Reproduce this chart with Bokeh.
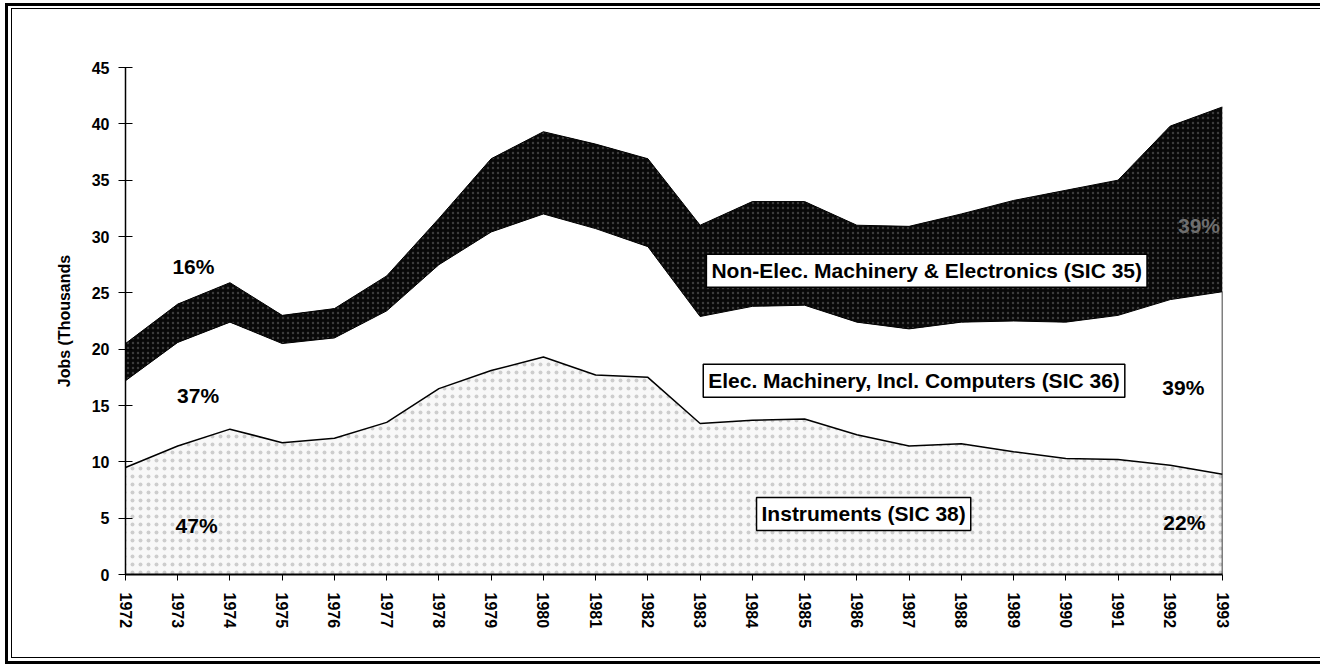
import numpy as np
from bokeh.plotting import figure
from bokeh.models import FixedTicker, Label, InlineStyleSheet
from bokeh.embed import file_html
from bokeh.resources import INLINE

# ---- data (thousands of jobs) ----
years = list(range(1972, 1994))
instruments = [9.5, 11.4, 12.9, 11.7, 12.1, 13.5, 16.5, 18.1, 19.3, 17.7, 17.5,
               13.4, 13.7, 13.8, 12.4, 11.4, 11.6, 10.9, 10.3, 10.2, 9.7, 8.9]
elec_machinery = [7.7, 9.2, 9.5, 8.8, 8.9, 9.9, 11.0, 12.3, 12.7, 13.0, 11.6,
                  9.5, 10.1, 10.1, 10.0, 10.4, 10.8, 11.6, 12.1, 12.8, 14.7, 16.2]
non_elec = [3.3, 3.4, 3.5, 2.5, 2.6, 3.1, 4.1, 6.5, 7.3, 7.5, 7.8,
            8.1, 9.3, 9.2, 8.6, 9.1, 9.6, 10.7, 11.7, 12.0, 15.4, 16.4]
y_ticks = [0, 5, 10, 15, 20, 25, 30, 35, 40, 45]
series_labels = ["Non-Elec. Machinery & Electronics (SIC 35)",
                 "Elec. Machinery, Incl. Computers (SIC 36)",
                 "Instruments (SIC 38)"]
start_pct = ["16%", "37%", "47%"]
end_pct = ["39%", "39%", "22%"]

x = np.array(years, dtype=float)
s1 = np.array(instruments)
s2 = s1 + np.array(elec_machinery)
s3 = s2 + np.array(non_elec)

FONT = "Liberation Sans"

p = figure(width=1320, height=666, output_backend="svg", toolbar_location=None,
           x_range=(years[0], years[-1]), y_range=(0, 45),
           min_border_left=125, min_border_right=98, min_border_top=67, min_border_bottom=92)
p.background_fill_color = "white"
p.border_fill_color = "white"
p.outline_line_color = None
p.grid.visible = False

# areas
p.varea(x=x, y1=0, y2=s1, fill_color="#f8f8f8",
        hatch_pattern=".", hatch_color="#cdcdcd", hatch_scale=8, hatch_weight=0.6)
p.varea(x=x, y1=s1, y2=s2, fill_color="white")
p.varea(x=x, y1=s2, y2=s3, fill_color="#080808",
        hatch_pattern=".", hatch_color="#3c3c3c", hatch_scale=5, hatch_weight=0.7)
p.line(x, s1, line_color="black", line_width=1.5)
p.line(x, s2, line_color="black", line_width=1)
p.line(x, s3, line_color="black", line_width=1)
p.segment(x0=[x[-1]], y0=[0], x1=[x[-1]], y1=[s2[-1]], line_color="black", line_width=1.5)

# axes
xa = p.xaxis[0]
xa.ticker = FixedTicker(ticks=years)
xa.major_label_orientation = "vertical"
xa.major_label_text_font = FONT
xa.major_label_text_font_style = "bold"
xa.major_label_text_font_size = "16px"
xa.major_label_text_color = "black"
xa.major_label_standoff = 12
xa.major_tick_in = 0
xa.major_tick_out = 6
xa.minor_tick_out = 0
xa.minor_tick_in = 0
xa.axis_line_width = 2
xa.axis_line_color = "black"
xa.major_tick_line_color = "black"

ya = p.yaxis[0]
ya.ticker = FixedTicker(ticks=y_ticks)
ya.major_label_text_font = FONT
ya.major_label_text_font_style = "bold"
ya.major_label_text_font_size = "16px"
ya.major_label_text_color = "black"
ya.major_label_standoff = 9
ya.major_tick_in = 7
ya.major_tick_out = 7
ya.minor_tick_out = 0
ya.minor_tick_in = 0
ya.axis_line_width = 1.5
ya.axis_line_color = "black"
ya.major_tick_line_color = "black"
ya.axis_label = "Jobs (Thousands"
ya.axis_label_text_font = FONT
ya.axis_label_text_font_style = "bold"
ya.axis_label_text_font_size = "16px"
ya.axis_label_text_color = "black"
ya.axis_label_standoff = 16

# series name boxes
def box_label(txt, xv, yv):
    lab = Label(x=xv, y=yv, text=txt, text_font=FONT, text_font_style="bold",
                text_font_size="21px", text_color="black", text_align="left",
                text_baseline="middle", background_fill_color="white",
                border_line_color="black", border_line_width=1.5, padding=5)
    p.add_layout(lab)

box_label(series_labels[0], 1983.12, 26.97)
box_label(series_labels[1], 1983.06, 17.2)
box_label(series_labels[2], 1984.08, 5.37)

# percentage labels
def pct(txt, xv, yv, color="black"):
    p.add_layout(Label(x=xv, y=yv, text=txt, text_font=FONT, text_font_style="bold",
                       text_font_size="21px", text_color=color, text_align="center",
                       text_baseline="middle"))

pct(start_pct[0], 1973.30, 27.3)
pct(start_pct[1], 1973.39, 15.9)
pct(start_pct[2], 1973.36, 4.35)
pct(end_pct[0], 1992.55, 31.0, color="#6e6e6e")
pct(end_pct[1], 1992.25, 16.6)
pct(end_pct[2], 1992.27, 4.6)

# double frame around the whole chart (drawn by CSS pseudo-elements, no layout impact)
frame_css = """
:host { position: relative; }
:host::before {
  content: ""; position: absolute; left: 5px; top: 3px; right: 0px; bottom: 2px;
  border-style: solid; border-color: black; border-width: 3px 0 3px 3px;
  pointer-events: none; z-index: 10; box-sizing: border-box;
}
:host::after {
  content: ""; position: absolute; left: 11px; top: 8px; right: 0px; bottom: 8px;
  border-style: solid; border-color: black; border-width: 1.5px 0 1.5px 1.5px;
  pointer-events: none; z-index: 10; box-sizing: border-box;
}
"""
p.stylesheets = [InlineStyleSheet(css=frame_css)]

open("out.html", "w").write(file_html(p, INLINE))
